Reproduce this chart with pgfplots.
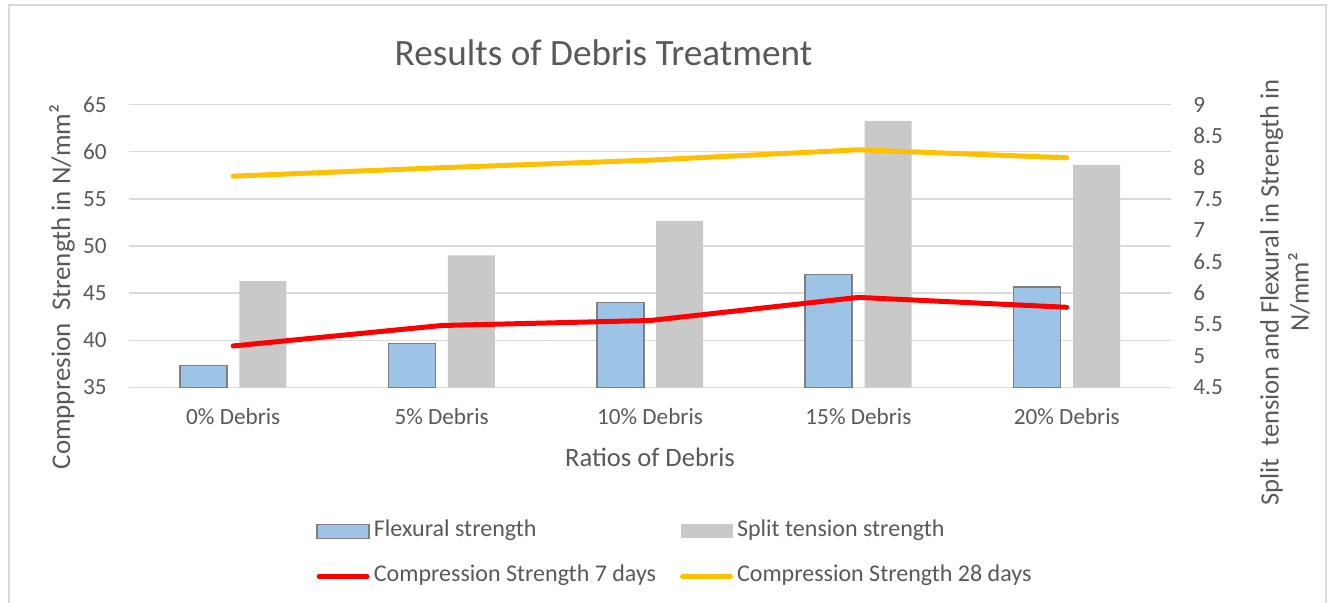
\documentclass[border=0pt]{standalone}
\usepackage{fontspec}
\setmainfont{Carlito}
\usepackage{pgfplots}
\pgfplotsset{compat=1.18}
\definecolor{txt}{HTML}{595959}
\definecolor{gridc}{HTML}{D9D9D9}
\definecolor{flex}{HTML}{9DC3E6}
\definecolor{flexb}{HTML}{7F7F7F}
\definecolor{splitc}{HTML}{C9C9C9}
\definecolor{c7}{HTML}{FF0000}
\definecolor{c28}{HTML}{FFC000}
\pgfplotsset{
  common/.style={
    scale only axis, width=521pt, height=141.5pt,
    at={(64.5pt,107.75pt)}, anchor=south west,
    xmin=-0.5, xmax=4.5,
    major tick length=0pt,
    axis line style={draw=none},
    tick label style={font=\fontsize{11.6}{13}\selectfont, text=txt},
    /pgf/number format/assume math mode=true,
  }
}
\begin{document}
\begin{tikzpicture}[x=0.5pt,y=0.5pt]
\path[use as bounding box] (0,0) rectangle (1332,603);
\draw[gridc, line width=0.75pt] (9,0) -- (9,598) -- (1326,598) -- (1326,0);

% Axis A: grid, left ticks, x labels
\begin{axis}[common,
  ymin=35, ymax=65, ytick={35,40,45,50,55,60,65},
  ymajorgrids, grid style={gridc, line width=0.75pt},
  yticklabel style={anchor=east, inner sep=0pt, xshift=-11pt},
  xtick={0,1,2,3,4},
  xticklabels={0\% Debris,5\% Debris,10\% Debris,15\% Debris,20\% Debris},
  xticklabel style={anchor=base, inner sep=0pt, yshift=-18.75pt},
  xlabel={Ratios of Debris},
  xlabel style={at={(axis description cs:0.5,0)}, anchor=base, inner sep=0pt, yshift=-39.5pt,
    font=\fontsize{13.3}{15}\selectfont, text=txt},
]
\addplot[draw=none, forget plot] coordinates {(0,35)};
\end{axis}

% Axis B: bars on right axis
\begin{axis}[common,
  ymin=4.5, ymax=9, ytick={4.5,5,5.5,6,6.5,7,7.5,8,8.5,9},
  yticklabel pos=right,
  yticklabel style={anchor=west, inner sep=0pt, xshift=11pt,
    /pgf/number format/.cd, fixed, precision=1},
  xtick=\empty,
  ybar, bar width=23.5pt,
  legend columns=2,
  legend cell align=left,
  legend style={at={(0.1795,-0.588)}, anchor=west, draw=none, fill=none,
    inner xsep=0pt, inner ysep=0pt, row sep=11.7pt,
    font=\fontsize{12}{14}\selectfont, text=txt,
    nodes={inner sep=0pt, inner xsep=2pt, text height=8.2pt, text depth=2.6pt},
    /tikz/every even column/.append style={column sep=10pt}},
]
\addplot[fill=flex, draw=flexb, line width=0.75pt, bar shift=-14.85pt,
  legend image code/.code={\draw[fill=flex, draw=flexb, line width=0.75pt] (0pt,-3.5pt) rectangle (26pt,3.5pt);}]
  coordinates {(0,4.85) (1,5.20) (2,5.85) (3,6.30) (4,6.10)};
\addlegendentry{Flexural strength}
\addplot[fill=splitc, draw=none, bar shift=14.85pt,
  legend image code/.code={\fill[splitc] (0pt,-3.5pt) rectangle (26pt,3.5pt);}]
  coordinates {(0,6.19) (1,6.60) (2,7.15) (3,8.74) (4,8.04)};
\addlegendentry{Split tension strength}
\addlegendimage{legend image code/.code={\draw[c7, line width=2.5pt, line cap=round] (1pt,0pt) -- (25pt,0pt);}}
\addlegendentry{Compression Strength 7 days}
\addlegendimage{legend image code/.code={\draw[c28, line width=2.5pt, line cap=round] (1pt,0pt) -- (25pt,0pt);}}
\addlegendentry{Compression Strength 28 days}
\end{axis}

% Axis C: lines on left axis
\begin{axis}[common, hide axis, ymin=35, ymax=65, clip=false]
\addplot[c7, line width=2.5pt, line cap=round, line join=round, mark=none]
  coordinates {(0,39.4) (1,41.57) (2,42.1) (3,44.55) (4,43.5)};
\addplot[c28, line width=2.5pt, line cap=round, line join=round, mark=none]
  coordinates {(0,57.4) (1,58.3) (2,59.1) (3,60.2) (4,59.35)};
\end{axis}

% Titles
\node[anchor=base, inner sep=0pt, text=txt, font=\fontsize{18.6}{20}\selectfont] at (603.5,537) {Results of Debris Treatment};
\node[rotate=90, inner sep=0pt, text=txt, font=\fontsize{13.5}{15}\selectfont] at (62,316) {Comppresion\ \ Strength in N/mm²};
\node[rotate=90, inner sep=0pt, align=center, text=txt, font=\fontsize{13.3}{15}\selectfont] at (1285,310.5) {Split\ \ tension and Flexural in Strength in\\N/mm²};
\end{tikzpicture}
\end{document}
